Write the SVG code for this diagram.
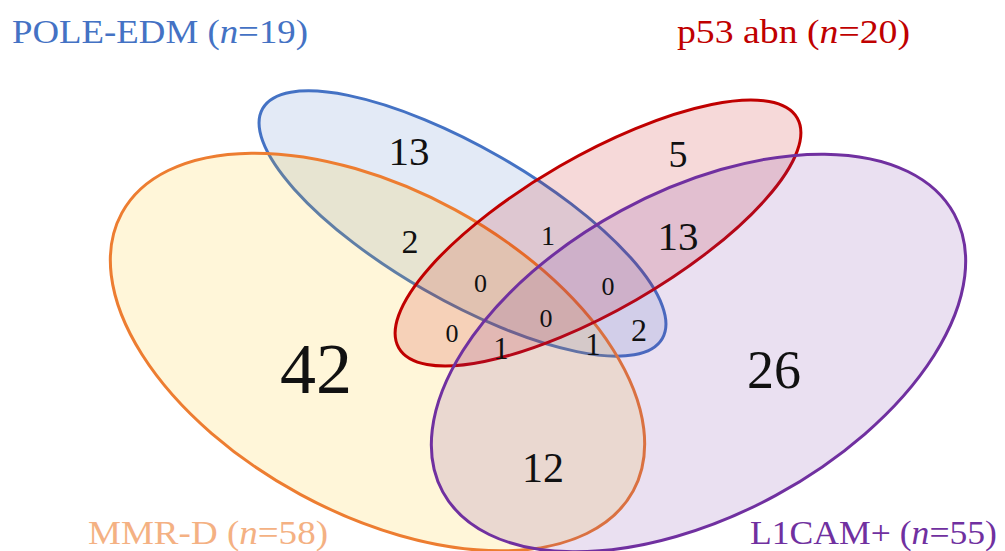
<svg xmlns="http://www.w3.org/2000/svg" width="1005" height="551" viewBox="0 0 1005 551">
<style>
.set{stroke-width:3}
.num{font-family:"Liberation Serif","Times New Roman",serif;fill:#111;text-anchor:middle}
.lbl{font-family:"Liberation Serif","Times New Roman",serif;font-size:33px}
</style>
<rect width="1005" height="551" fill="#ffffff"/>
<g id="sets">
<g id="pole"><ellipse class="set" cx="462.5" cy="223.5" rx="230.5" ry="76.5" transform="rotate(29.9 462.5 223.5)" fill="#4472c4" fill-opacity="0.15" stroke="#4472c4"/></g>
<g id="mmr"><ellipse class="set" cx="377.5" cy="352" rx="291" ry="162" transform="rotate(28.5 377.5 352)" fill="#ffc000" fill-opacity="0.15" stroke="#ed7d31"/></g>
<g id="p53"><ellipse class="set" cx="598" cy="233" rx="230" ry="77" transform="rotate(-30 598 233)" fill="#c00000" fill-opacity="0.15" stroke="#c00000"/></g>
<g id="l1cam"><ellipse class="set" cx="698.5" cy="353" rx="291" ry="162" transform="rotate(-28.5 698.5 353)" fill="#7030a0" fill-opacity="0.15" stroke="#7030a0"/></g>
</g>
<g id="labels">
<text class="lbl" x="12" y="43" fill="#4472c4" textLength="296" lengthAdjust="spacingAndGlyphs">POLE-EDM (<tspan font-style="italic">n</tspan>=19)</text>
<text class="lbl" x="677" y="43" fill="#c00000" textLength="233" lengthAdjust="spacingAndGlyphs">p53 abn (<tspan font-style="italic">n</tspan>=20)</text>
<text class="lbl" x="88" y="544" fill="#f4b183" textLength="240" lengthAdjust="spacingAndGlyphs">MMR-D (<tspan font-style="italic">n</tspan>=58)</text>
<text class="lbl" x="750" y="544" fill="#7030a0" textLength="247" lengthAdjust="spacingAndGlyphs">L1CAM+ (<tspan font-style="italic">n</tspan>=55)</text>
</g>
<g id="counts">
<text class="num" x="409" y="165" font-size="41">13</text>
<text class="num" x="678" y="167" font-size="38">5</text>
<text class="num" x="678" y="250" font-size="41">13</text>
<text class="num" x="410" y="253" font-size="34">2</text>
<text class="num" x="548" y="245" font-size="28">1</text>
<text class="num" x="480.5" y="292" font-size="26">0</text>
<text class="num" x="608" y="295" font-size="26">0</text>
<text class="num" x="546" y="327" font-size="26">0</text>
<text class="num" x="452" y="342" font-size="26">0</text>
<text class="num" x="501" y="359" font-size="31">1</text>
<text class="num" x="593" y="355" font-size="31">1</text>
<text class="num" x="639" y="341" font-size="32">2</text>
<text class="num" x="316" y="393" font-size="72">42</text>
<text class="num" x="774" y="388" font-size="54">26</text>
<text class="num" x="543" y="482" font-size="42">12</text>
</g>
</svg>
